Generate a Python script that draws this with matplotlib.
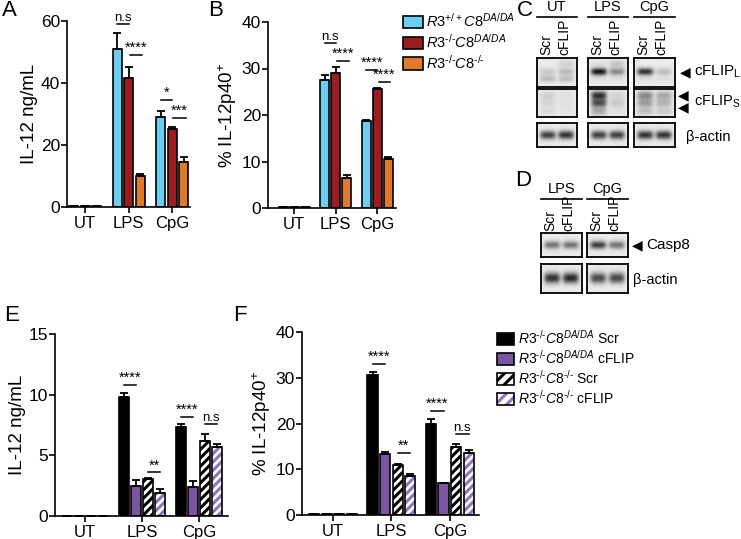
import numpy as np
import matplotlib
matplotlib.use("Agg")
import matplotlib.pyplot as plt
from matplotlib.patches import Patch

plt.rcParams['font.family'] = ['Liberation Sans', 'DejaVu Sans']
plt.rcParams['mathtext.fontset'] = 'custom'
plt.rcParams['mathtext.it'] = 'Liberation Sans:italic'
plt.rcParams['mathtext.rm'] = 'Liberation Sans'
plt.rcParams['hatch.linewidth'] = 2.2

W, H = 741, 539

# ---------------- data ----------------
groups = ['UT', 'LPS', 'CpG']

# panel A: IL-12 ng/mL
a_wt = [0.2, 51.0, 29.0]
a_wt_err = [0.0, 5.0, 2.0]
a_r3 = [0.2, 41.5, 25.0]
a_r3_err = [0.0, 3.8, 0.8]
a_dko = [0.2, 10.0, 14.5]
a_dko_err = [0.0, 0.5, 1.5]

# panel B: % IL-12p40+
b_wt = [0.15, 27.5, 18.7]
b_wt_err = [0.0, 1.0, 0.2]
b_r3 = [0.15, 29.0, 25.5]
b_r3_err = [0.0, 1.3, 0.3]
b_dko = [0.15, 6.5, 10.5]
b_dko_err = [0.0, 0.5, 0.4]

# panel E: IL-12 ng/mL after knockdown
e_da_scr = [0.0, 9.8, 7.35]
e_da_scr_err = [0.0, 0.3, 0.2]
e_da_flip = [0.0, 2.5, 2.4]
e_da_flip_err = [0.0, 0.45, 0.5]
e_ko_scr = [0.0, 3.05, 6.2]
e_ko_scr_err = [0.0, 0.08, 0.55]
e_ko_flip = [0.0, 1.9, 5.65]
e_ko_flip_err = [0.0, 0.3, 0.25]

# panel F: % IL-12p40+ after knockdown
f_da_scr = [0.15, 30.5, 20.0]
f_da_scr_err = [0.0, 0.8, 1.0]
f_da_flip = [0.15, 13.4, 7.0]
f_da_flip_err = [0.0, 0.3, 0.1]
f_ko_scr = [0.15, 10.9, 14.9]
f_ko_scr_err = [0.0, 0.3, 0.7]
f_ko_flip = [0.15, 8.6, 13.6]
f_ko_flip_err = [0.0, 0.3, 0.5]

# blots: band intensities per group, per lane (Scr, cFLIP), per band position
c_groups = ['UT', 'LPS', 'CpG']
lanes = ['Scr', 'cFLIP']
flipL_pos = [0.2, 0.47, 0.72]
flipL = [[[0.0, 0.15, 0.22], [0.12, 0.22, 0.2]],
         [[0.05, 1.0, 0.05], [0.18, 0.45, 0.05]],
         [[0.0, 0.85, 0.05], [0.0, 0.2, 0.05]]]
flipS_pos = [0.22, 0.5, 0.8]
flipS = [[[0.12, 0.1, 0.08], [0.05, 0.05, 0.03]],
         [[0.85, 0.7, 0.3], [0.1, 0.15, 0.05]],
         [[0.45, 0.35, 0.2], [0.3, 0.25, 0.15]]]
actin_pos = [0.5]
actinC = [[[0.8], [0.85]], [[0.8], [0.8]], [[0.85], [0.85]]]
d_groups = ['LPS', 'CpG']
casp8 = [[[0.55], [0.55]], [[0.8], [0.55]]]
actinD = [[[0.85], [0.9]], [[0.75], [0.75]]]

blue = '#6CCFF2'
red = '#9B1C21'
orange = '#E07A2B'
purple = '#7A55A2'
light_purple = '#8F75BE'
hy = '\u2010'
g_wt = r'$\mathit{R3^{+/+}C8^{DA/DA}}$'
g_da = r'$\mathit{R3^{' + hy + '/' + hy + r'}C8^{DA/DA}}$'
g_ko = r'$\mathit{R3^{' + hy + '/' + hy + r'}C8^{' + hy + '/' + hy + '}}$'


def box(x0, y0, x1, y1):
    return [x0 / W, 1 - y1 / H, (x1 - x0) / W, (y1 - y0) / H]


def style(ax, ylim, yticks, xlim, ylabel):
    ax.set_ylim(*ylim)
    ax.set_xlim(*xlim)
    ax.set_yticks(yticks)
    ax.set_xticks(range(len(groups)))
    ax.set_xticklabels(groups, fontsize=12)
    ax.tick_params(axis='y', labelsize=12.5, width=1.2, length=4, pad=1)
    ax.tick_params(axis='x', width=1.2, length=4, pad=2.5)
    for s in ['top', 'right']:
        ax.spines[s].set_visible(False)
    for s in ['left', 'bottom']:
        ax.spines[s].set_linewidth(1.2)
    ax.set_ylabel(ylabel, fontsize=13.5, labelpad=2)


def bars(ax, x, vals, err, width, color, hatch=None, hatchcolor=None):
    if hatch:
        ax.bar(x, vals, width, color='white', edgecolor=hatchcolor, hatch=hatch, lw=0, zorder=2)
        b = ax.bar(x, vals, width, fill=False, edgecolor='black', lw=1.2, zorder=3)
    else:
        b = ax.bar(x, vals, width, color=color, edgecolor='black', lw=1.2, zorder=2)
    ax.errorbar(x, vals, yerr=[np.zeros(len(vals)), err], fmt='none', ecolor='black',
                elinewidth=1.3, capsize=3, capthick=1.3, zorder=4)
    return b


def sig(ax, x1, x2, y, txt, fs=10.5):
    ax.plot([x1, x2], [y, y], color='black', lw=1.1, clip_on=False)
    ax.text((x1 + x2) / 2, y, txt, ha='center', va='bottom', fontsize=fs, clip_on=False)


fig = plt.figure(figsize=(W / 100, H / 100), dpi=100)
x = np.arange(len(groups))

# ---------------- A ----------------
axA = fig.add_axes(box(67, 21, 190, 207))
o, w = 0.265, 0.2
bars(axA, x - o, a_wt, a_wt_err, w, blue)
bars(axA, x, a_r3, a_r3_err, w, red)
bars(axA, x + o, a_dko, a_dko_err, w, orange)
style(axA, (0, 60), [0, 20, 40, 60], (-0.42, 2.41), 'IL-12 ng/mL')
sig(axA, 1 - o, 1, 59, 'n.s', 9.5)
sig(axA, 1.03, 1 + o + 0.05, 49, '****')
sig(axA, 2 - o, 2, 34.5, '*')
sig(axA, 2.03, 2 + o + 0.05, 28.7, '***')

# ---------------- B ----------------
axB = fig.add_axes(box(268, 22, 396, 208))
o, w = 0.265, 0.22
hB1 = bars(axB, x - o, b_wt, b_wt_err, w, blue)
hB2 = bars(axB, x, b_r3, b_r3_err, w, red)
hB3 = bars(axB, x + o, b_dko, b_dko_err, w, orange)
style(axB, (0, 40), [0, 10, 20, 30, 40], (-0.63, 2.45), '% IL-12p40$^{+}$')
sig(axB, 1 - o, 1, 35.5, 'n.s', 9.5)
sig(axB, 1.03, 1 + o + 0.05, 31.6, '****')
sig(axB, 2 - o, 2, 29.7, '****')
sig(axB, 2.03, 2 + o + 0.05, 27.1, '****')
fig.legend([hB1, hB2, hB3], [g_wt, g_da, g_ko],
           loc='upper left', bbox_to_anchor=(403 / W, 1 - 12 / H), frameon=False,
           fontsize=10.5, handlelength=1.4, handleheight=0.9, handletextpad=0.2,
           labelspacing=0.2, borderaxespad=0, borderpad=0)

# ---------------- E ----------------
axE = fig.add_axes(box(55, 334, 228, 516))
o, w = 0.21, 0.17
bars(axE, x - 1.5 * o, e_da_scr, e_da_scr_err, w, 'black')
bars(axE, x - 0.5 * o, e_da_flip, e_da_flip_err, w, purple)
bars(axE, x + 0.5 * o, e_ko_scr, e_ko_scr_err, w, None, '////', 'black')
bars(axE, x + 1.5 * o, e_ko_flip, e_ko_flip_err, w, None, '////', light_purple)
style(axE, (0, 15), [0, 5, 10, 15], (-0.53, 2.51), 'IL-12 ng/mL')
sig(axE, 1 - 1.5 * o, 1 - 0.5 * o, 10.8, '****')
sig(axE, 1 + 0.5 * o, 1 + 1.5 * o, 3.6, '**')
sig(axE, 2 - 1.5 * o, 2 - 0.5 * o, 8.2, '****')
sig(axE, 2 + 0.5 * o, 2 + 1.5 * o, 7.6, 'n.s', 9.5)

# ---------------- F ----------------
axF = fig.add_axes(box(302, 332, 479, 515))
o, w = 0.215, 0.175
hF1 = bars(axF, x - 1.5 * o, f_da_scr, f_da_scr_err, w, 'black')
hF2 = bars(axF, x - 0.5 * o, f_da_flip, f_da_flip_err, w, purple)
bars(axF, x + 0.5 * o, f_ko_scr, f_ko_scr_err, w, None, '////', 'black')
bars(axF, x + 1.5 * o, f_ko_flip, f_ko_flip_err, w, None, '////', light_purple)
style(axF, (0, 40), [0, 10, 20, 30, 40], (-0.53, 2.5), '% IL-12p40$^{+}$')
sig(axF, 1 - 1.5 * o, 1 - 0.5 * o, 33, '****')
sig(axF, 1 + 0.5 * o, 1 + 1.5 * o, 13.5, '**')
sig(axF, 2 - 1.5 * o, 2 - 0.5 * o, 22.7, '****')
sig(axF, 2 + 0.5 * o, 2 + 1.5 * o, 17.7, 'n.s', 9.5)

h_hatch_k = (Patch(facecolor='white', edgecolor='black', hatch='///', lw=0),
             Patch(fill=False, edgecolor='black', lw=1.2))
h_hatch_p = (Patch(facecolor='white', edgecolor=light_purple, hatch='///', lw=0),
             Patch(fill=False, edgecolor='black', lw=1.2))
fig.legend([hF1, hF2, h_hatch_k, h_hatch_p],
           [g_da + ' Scr', g_da + ' cFLIP', g_ko + ' Scr', g_ko + ' cFLIP'],
           loc='upper left', bbox_to_anchor=(497 / W, 1 - 329 / H), frameon=False,
           fontsize=10, handlelength=1.2, handleheight=0.9, handletextpad=0.3,
           labelspacing=0.15, borderaxespad=0, borderpad=0)


# ---------------- blots ----------------
def blot(rect, positions, lane_ints, sigma=0.09):
    ax = fig.add_axes(box(*rect))
    yy, xx = np.mgrid[0:1:40j, 0:1:60j]
    val = np.zeros_like(yy)
    for li, ints in enumerate(lane_ints):
        cx = 0.27 + 0.46 * li
        prof = np.exp(-((xx - cx) / 0.2) ** 4)
        for p, v in zip(positions, ints):
            val += v * np.exp(-(yy - p) ** 2 / (2 * sigma ** 2)) * prof
    img = 0.92 - 0.85 * np.clip(val, 0, 1)
    ax.imshow(img, cmap='gray', vmin=0, vmax=1, aspect='auto', interpolation='bilinear')
    ax.set_xticks([])
    ax.set_yticks([])
    for s in ax.spines.values():
        s.set_linewidth(1.3)
    return ax


c_x = [(537, 577), (588, 628), (634, 675)]
for gi, (x0, x1) in enumerate(c_x):
    blot((x0, 58, x1, 87), flipL_pos, flipL[gi], 0.09)
    blot((x0, 89, x1, 117), flipS_pos, flipS[gi], 0.11)
    blot((x0, 123, x1, 147), actin_pos, actinC[gi], 0.13)
    fig.text((x0 + x1) / 2 / W, 1 - 14 / H, c_groups[gi], ha='center', va='bottom', fontsize=10.5)
    fig.lines.append(plt.Line2D([x0 / W, x1 / W], [1 - 17 / H, 1 - 17 / H], color='black',
                                lw=1.2, transform=fig.transFigure))
    for li, lab in enumerate(lanes):
        fig.text((x0 + 9 + li * 18) / W, 1 - 55 / H, lab, rotation=90, ha='center',
                 va='bottom', fontsize=10)

d_x = [(541, 582), (587, 628)]
for gi, (x0, x1) in enumerate(d_x):
    blot((x0, 233, x1, 257), actin_pos, casp8[gi], 0.12)
    blot((x0, 264, x1, 293), actin_pos, actinD[gi], 0.13)
    fig.text((x0 + x1) / 2 / W, 1 - 196 / H, d_groups[gi], ha='center', va='bottom', fontsize=10.5)
    fig.lines.append(plt.Line2D([x0 / W, x1 / W], [1 - 199 / H, 1 - 199 / H], color='black',
                                lw=1.2, transform=fig.transFigure))
    for li, lab in enumerate(lanes):
        fig.text((x0 + 9 + li * 18) / W, 1 - 231 / H, lab, rotation=90, ha='center',
                 va='bottom', fontsize=10)

arrow_kw = dict(ha='left', va='center', fontsize=10, family='DejaVu Sans')
fig.text(680 / W, 1 - 72 / H, '\u25C0', **arrow_kw)
fig.text(694 / W, 1 - 72 / H, 'cFLIP$_{\\mathregular{L}}$', ha='left', va='center', fontsize=11)
fig.text(678 / W, 1 - 95 / H, '\u25C0', **arrow_kw)
fig.text(678 / W, 1 - 107 / H, '\u25C0', **arrow_kw)
fig.text(694 / W, 1 - 102 / H, 'cFLIP$_{\\mathregular{S}}$', ha='left', va='center', fontsize=10.5)
fig.text(686 / W, 1 - 137 / H, '\u03B2-actin', ha='left', va='center', fontsize=10.5)
fig.text(632 / W, 1 - 245 / H, '\u25C0', **arrow_kw)
fig.text(646 / W, 1 - 245 / H, 'Casp8', ha='left', va='center', fontsize=11)
fig.text(633 / W, 1 - 280 / H, '\u03B2-actin', ha='left', va='center', fontsize=10.5)

# panel letters
for lab, px, py in [('A', 2, 0), ('B', 208, 0), ('C', 517, 0), ('D', 515, 170),
                    ('E', 4, 305), ('F', 233, 305)]:
    fig.text(px / W, 1 - py / H, lab, ha='left', va='top', fontsize=16)

fig.savefig('out.png', dpi=100)
